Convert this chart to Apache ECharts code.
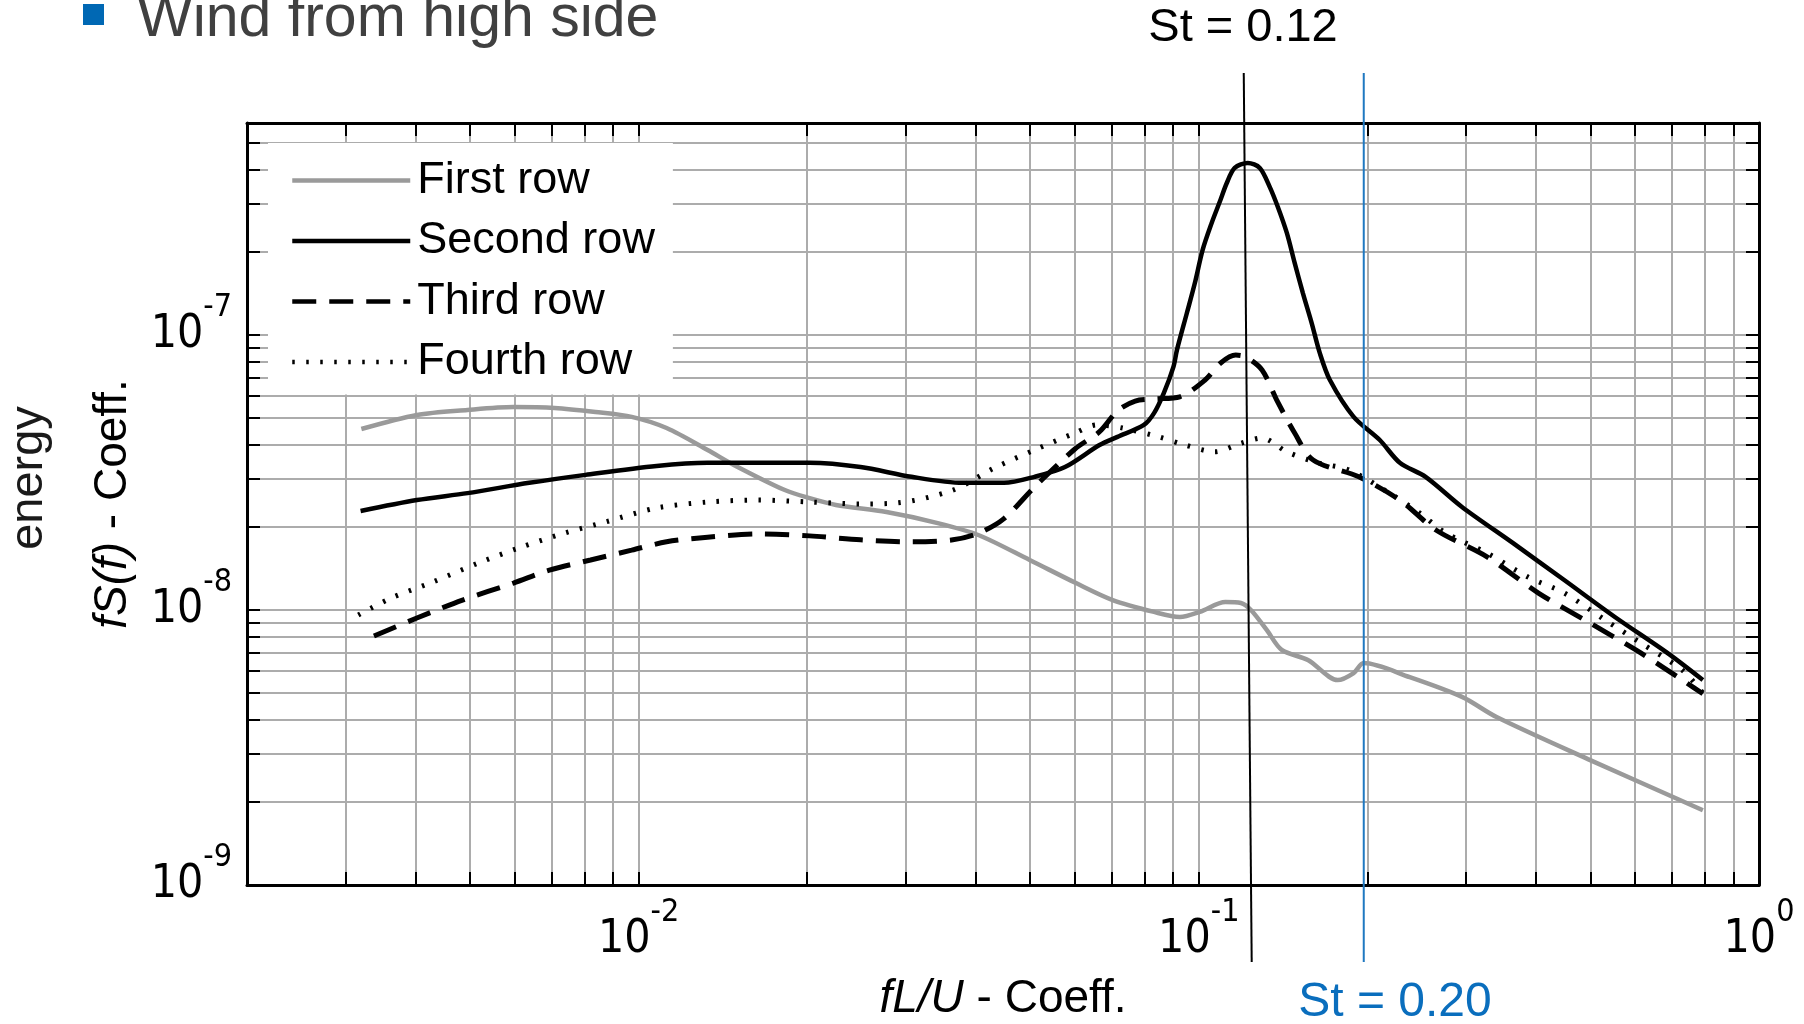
<!DOCTYPE html>
<html>
<head>
<meta charset="utf-8">
<title>Wind from high side</title>
<script src="https://cdn.jsdelivr.net/npm/echarts@6/dist/echarts.min.js"></script>
<style>
  html, body { margin: 0; padding: 0; background: #fff; }
  #chart { width: 1804px; height: 1024px; }
</style>
</head>
<body>
<div id="chart"></div>
<script>
// spectra, pairs of [fL/U, fS(f)]
var firstRow = [
  [3.20e-3, 4.55e-8], [4.02e-3, 5.12e-8], [4.95e-3, 5.34e-8], [5.98e-3, 5.47e-8],
  [7.08e-3, 5.43e-8], [8.38e-3, 5.25e-8], [9.72e-3, 5.04e-8], [1.122e-2, 4.59e-8],
  [1.328e-2, 3.82e-8], [1.479e-2, 3.37e-8], [1.824e-2, 2.73e-8], [2.02e-2, 2.55e-8],
  [2.25e-2, 2.41e-8], [2.77e-2, 2.27e-8], [3.42e-2, 2.07e-8], [4.05e-2, 1.87e-8],
  [4.99e-2, 1.52e-8], [6.05e-2, 1.25e-8], [7.02e-2, 1.087e-8], [8.32e-2, 9.84e-9],
  [9.25e-2, 9.43e-9], [0.1004, 9.84e-9], [0.1116, 1.069e-8], [0.1189, 1.06e-8],
  [0.1239, 1.0e-8], [0.1322, 8.46e-9], [0.1406, 7.16e-9], [0.1566, 6.58e-9],
  [0.177, 5.56e-9], [0.189, 5.9e-9], [0.197, 6.41e-9], [0.238, 5.7e-9],
  [0.295, 4.83e-9], [0.340, 4.08e-9], [0.495, 2.87e-9], [0.794, 1.87e-9]
];
var secondRow = [
  [3.19e-3, 2.29e-8], [4.02e-3, 2.51e-8], [4.95e-3, 2.66e-8], [6.38e-3, 2.90e-8],
  [8.04e-3, 3.10e-8], [1.077e-2, 3.34e-8], [1.328e-2, 3.43e-8], [2.02e-2, 3.43e-8],
  [2.49e-2, 3.31e-8], [3.07e-2, 3.05e-8], [3.79e-2, 2.90e-8], [4.49e-2, 2.90e-8],
  [5.09e-2, 3.05e-8], [5.77e-2, 3.31e-8], [6.65e-2, 3.98e-8], [7.16e-2, 4.26e-8],
  [7.98e-2, 4.71e-8], [8.32e-2, 5.2e-8], [8.66e-2, 6.15e-8], [9.01e-2, 7.66e-8],
  [9.14e-2, 8.81e-8], [9.52e-2, 1.2e-7], [9.84e-2, 1.545e-7], [0.1016, 2.04e-7],
  [0.1054, 2.55e-7], [0.109, 3.05e-7], [0.1122, 3.57e-7], [0.1159, 4.05e-7],
  [0.1223, 4.22e-7], [0.1285, 4.05e-7], [0.1339, 3.45e-7], [0.1384, 2.92e-7],
  [0.1436, 2.35e-7], [0.1483, 1.83e-7], [0.1534, 1.42e-7], [0.159, 1.107e-7],
  [0.1644, 8.61e-8], [0.1714, 6.86e-8], [0.189, 5.04e-8], [0.2104, 4.15e-8],
  [0.2285, 3.43e-8], [0.254, 3.05e-8], [0.295, 2.37e-8], [0.364, 1.75e-8],
  [0.449, 1.285e-8], [0.553, 9.43e-9], [0.686, 6.98e-9], [0.794, 5.56e-9]
];
var thirdRow = [
  [3.37e-3, 8.04e-9], [4.02e-3, 9.35e-9], [4.85e-3, 1.087e-8], [5.98e-3, 1.253e-8],
  [6.93e-3, 1.396e-8], [8.21e-3, 1.52e-8], [9.72e-3, 1.65e-8], [1.122e-2, 1.77e-8],
  [1.328e-2, 1.84e-8], [1.637e-2, 1.89e-8], [2.02e-2, 1.86e-8], [2.49e-2, 1.80e-8],
  [3.07e-2, 1.77e-8], [3.64e-2, 1.80e-8], [4.05e-2, 1.905e-8], [4.49e-2, 2.15e-8],
  [5.09e-2, 2.80e-8], [6.01e-2, 3.85e-8], [6.65e-2, 4.45e-8], [7.16e-2, 5.30e-8],
  [7.7e-2, 5.75e-8], [8.32e-2, 5.85e-8], [9.25e-2, 5.96e-8], [0.1026, 6.86e-8],
  [0.1094, 7.91e-8], [0.1164, 8.45e-8], [0.1213, 8.32e-8], [0.1297, 7.46e-8],
  [0.1377, 5.81e-8], [0.1483, 4.40e-8], [0.160, 3.51e-8], [0.193, 3.05e-8],
  [0.2285, 2.51e-8], [0.265, 1.954e-8], [0.327, 1.56e-8], [0.4046, 1.15e-8],
  [0.499, 8.97e-9], [0.615, 6.98e-9], [0.743, 5.43e-9], [0.794, 4.96e-9]
];
var fourthRow = [
  [3.16e-3, 9.59e-9], [3.62e-3, 1.106e-8], [4.29e-3, 1.264e-8], [5.18e-3, 1.483e-8],
  [6.11e-3, 1.68e-8], [7.38e-3, 1.905e-8], [8.73e-3, 2.09e-8], [1.077e-2, 2.35e-8],
  [1.328e-2, 2.47e-8], [1.637e-2, 2.51e-8], [2.02e-2, 2.47e-8], [2.49e-2, 2.43e-8],
  [2.89e-2, 2.45e-8], [3.64e-2, 2.73e-8], [4.31e-2, 3.28e-8], [5.09e-2, 3.82e-8],
  [6.01e-2, 4.40e-8], [6.58e-2, 4.71e-8], [7.31e-2, 4.59e-8], [8.49e-2, 4.26e-8],
  [9.45e-2, 3.98e-8], [0.1068, 3.76e-8], [0.1189, 4.04e-8], [0.1297, 4.22e-8],
  [0.1436, 3.76e-8], [0.163, 3.43e-8], [0.1853, 3.23e-8], [0.219, 2.66e-8],
  [0.248, 2.25e-8], [0.276, 1.905e-8], [0.327, 1.61e-8], [0.387, 1.318e-8],
  [0.449, 1.153e-8], [0.531, 9.2e-9], [0.615, 7.59e-9], [0.729, 6.05e-9],
  [0.794, 4.99e-9]
];

// Strouhal marker lines (they run past the plot frame)
var st12Line = [[0.1203, 8.97e-7], [0.1243, 5.25e-10]];
var st20Line = [[0.197, 8.97e-7], [0.197, 5.25e-10]];

var xMin = 2e-3, xMax = 1;
var yMin = 1e-9, yMax = 5.9e-7;
var xLabelTicks = [0.01, 0.1, 1];
var yLabelTicks = [1e-9, 1e-8, 1e-7];
var tickMult = [1, 2, 3, 4, 5, 6, 7, 8, 9];

function logTicks(e0, e1) {
  var out = [];
  for (var e = e0; e <= e1; e++) {
    tickMult.forEach(function (m) { out.push(Number((m * Math.pow(10, e)).toPrecision(6))); });
  }
  return out;
}
var xTicks = logTicks(-3, 0);
var yTicks = logTicks(-9, -7);

var narrow = "'Liberation Sans Narrow', 'DejaVu Sans Condensed', 'Liberation Sans', sans-serif";
var arial = "'Liberation Sans', Arial, sans-serif";

function powLabel(v) {
  return '{b|10}{s|' + Math.round(Math.log10(v)) + '}';
}
// "10" sits in the middle of a tall line, the exponent hugs its top
var powRich = {
  b: { fontSize: 46, fontFamily: narrow, color: '#000', lineHeight: 86, verticalAlign: 'middle' },
  s: { fontSize: 32, fontFamily: narrow, color: '#000', lineHeight: 20, verticalAlign: 'top' }
};

function frameAxis(pos, min, max, ticks, labels, extra) {
  var ax = {
    type: 'log', logBase: 10, min: min, max: max, position: pos,
    axisLine: { show: true, onZero: false, lineStyle: { color: '#000', width: 3 } },
    axisTick: { show: true, inside: true, length: 13, customValues: ticks, lineStyle: { color: '#000', width: 2 } },
    minorTick: { show: false },
    splitLine: { show: false },
    axisLabel: { show: false }
  };
  if (labels) {
    ax.splitLine = { show: true, lineStyle: { color: '#acacac', width: 2 } };
    ax.axisLabel = { show: true, customValues: labels, formatter: powLabel, rich: powRich, color: '#000' };
  }
  for (var k in extra) ax[k] = extra[k];
  return ax;
}

var chart = echarts.init(document.getElementById('chart'));
var xBottom = frameAxis('bottom', xMin, xMax, xTicks, xLabelTicks, {
  name: '{i|fL/U} - Coeff.', nameLocation: 'middle', nameGap: 91,
  nameTextStyle: { fontSize: 46, fontFamily: arial, color: '#000',
    rich: { i: { fontSize: 46, fontFamily: arial, fontStyle: 'italic', color: '#000' } } }
});
xBottom.axisLabel.margin = 12;
var yLeft = frameAxis('left', yMin, yMax, yTicks, yLabelTicks, {
  name: '{i|fS(f)} - Coeff.', nameLocation: 'middle', nameRotate: 90, nameGap: 111,
  nameTextStyle: { fontSize: 46, fontFamily: arial, color: '#000',
    rich: { i: { fontSize: 46, fontFamily: arial, fontStyle: 'italic', color: '#000' } } }
});
yLeft.axisLabel.margin = 15;

chart.setOption({
  animation: false,
  backgroundColor: '#fff',
  grid: { left: 247, right: 45, top: 123, bottom: 139, outerBoundsMode: 'none' },
  xAxis: [xBottom, frameAxis('top', xMin, xMax, xTicks, null, {})],
  yAxis: [yLeft, frameAxis('right', yMin, yMax, yTicks, null, {})],
  legend: {
    data: ['First row', 'Second row', 'Third row', 'Fourth row'],
    orient: 'vertical', left: 268, top: 143,
    padding: [15, 18, 10, 22], itemGap: 15.5,
    itemWidth: 118, itemHeight: 20,
    backgroundColor: '#fff', selectedMode: false,
    lineStyle: { width: 4.5 },
    itemStyle: { opacity: 0, borderWidth: 0 },
    textStyle: { fontSize: 45, fontFamily: arial, color: '#000', padding: [0, 0, 0, 2] }
  },
  series: [
    { name: 'First row', type: 'line', data: firstRow, symbol: 'none', smooth: 0.3, color: '#9a9a9a',
      lineStyle: { color: '#9a9a9a', width: 4.5 }, z: 3, silent: true },
    { name: 'Second row', type: 'line', data: secondRow, symbol: 'none', smooth: 0.3, color: '#000',
      lineStyle: { color: '#000', width: 4.5 }, z: 6, silent: true },
    { name: 'Third row', type: 'line', data: thirdRow, symbol: 'none', smooth: 0.3, color: '#000',
      lineStyle: { color: '#000', width: 5, type: [24, 13] }, z: 5, silent: true },
    { name: 'Fourth row', type: 'line', data: fourthRow, symbol: 'none', smooth: 0.3, color: '#000',
      lineStyle: { color: '#000', width: 5, type: [2.5, 11.5] }, z: 4, silent: true },
    { name: 'St = 0.12', type: 'line', data: st12Line, symbol: 'none', clip: false, color: '#000',
      lineStyle: { color: '#000', width: 2 }, z: 7, silent: true },
    { name: 'St = 0.20', type: 'line', data: st20Line, symbol: 'none', clip: false, color: '#1f78c1',
      lineStyle: { color: '#1f78c1', width: 2 }, z: 7, silent: true }
  ],
  graphic: [
    { type: 'rect', shape: { x: 83, y: 4, width: 21, height: 21 }, style: { fill: '#0068b4' } },
    { type: 'text', x: 137, y: 20, style: { text: 'Wind from high side', x: 0, y: 0, fill: '#404040',
      font: '59px ' + arial, textAlign: 'left', textVerticalAlign: 'middle', align: 'left', verticalAlign: 'middle' } },
    { type: 'text', x: 1243, y: 28.5, style: { text: 'St = 0.12', x: 0, y: 0, fill: '#000',
      font: '47px ' + arial, textAlign: 'center', textVerticalAlign: 'middle', align: 'center', verticalAlign: 'middle' } },
    { type: 'text', x: 1395, y: 1003, style: { text: 'St = 0.20', x: 0, y: 0, fill: '#0a6ebd',
      font: '48px ' + arial, textAlign: 'center', textVerticalAlign: 'middle', align: 'center', verticalAlign: 'middle' } },
    { type: 'text', x: 29, y: 478, rotation: Math.PI / 2, style: { text: 'energy', x: 0, y: 0, fill: '#1a1a1a',
      font: '47px ' + arial, textAlign: 'center', textVerticalAlign: 'middle', align: 'center', verticalAlign: 'middle' } }
  ]
});
</script>
</body>
</html>
